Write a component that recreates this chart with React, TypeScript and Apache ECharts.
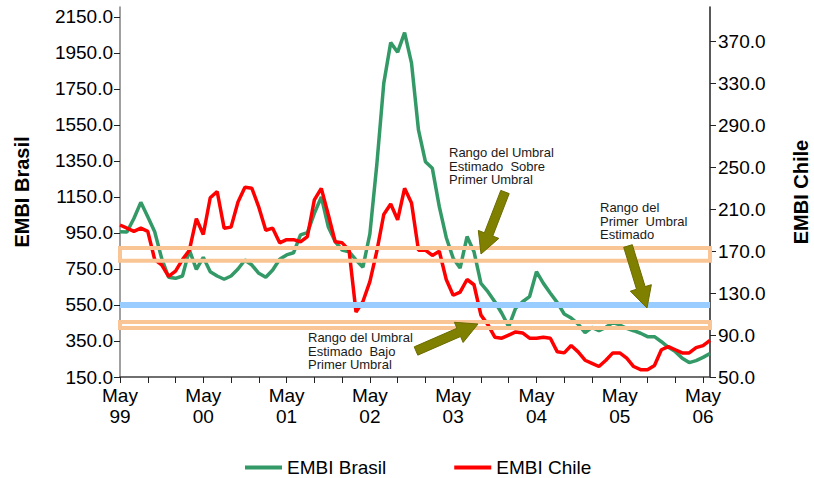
import { useEffect, useRef } from 'react';
import * as echarts from 'echarts';

// meses mayo 1999 a junio 2006
const monthNames = ['Jan', 'Feb', 'Mar', 'Apr', 'May', 'Jun', 'Jul', 'Aug', 'Sep', 'Oct', 'Nov', 'Dec'];
const months: string[] = [];
for (let k = 0; k < 86; k++) {
  const m = (4 + k) % 12;
  const yy = (99 + Math.floor((4 + k) / 12)) % 100;
  months.push(monthNames[m] + ' ' + String(yy).padStart(2, '0'));
}

const brasil = [
  957, 955, 1030, 1120, 1040, 957, 809, 704, 698, 711,
  855, 748, 815, 735, 711, 693, 711, 750, 800, 772,
  726, 704, 744, 804, 828, 840, 939, 952, 1059, 1150,
  985, 902, 855, 846, 800, 760, 945, 1330, 1781, 2007,
  1954, 2063, 1893, 1522, 1346, 1309, 1096, 925, 810, 755,
  930, 846, 670, 624, 568, 504, 430, 532, 568, 596,
  735, 670, 615, 563, 500, 478, 444, 396, 426, 407,
  426, 452, 439, 420, 407, 393, 374, 374, 346, 315,
  291, 254, 230, 241, 259, 281,
];

const chile = [
  195, 192, 189, 192, 189, 162, 157, 146, 151, 162,
  171, 201, 186, 221, 227, 192, 193, 217, 231, 230,
  212, 190, 192, 178, 181, 181, 179, 184, 219, 230,
  205, 179, 178, 171, 112, 122, 141, 170, 205, 215,
  200, 230, 216, 171, 171, 166, 170, 143, 128, 131,
  143, 138, 109, 100, 88, 87, 90, 93, 92, 87,
  87, 88, 87, 74, 73, 80, 74, 66, 63, 60,
  66, 73, 73, 68, 60, 57, 57, 61, 76, 79,
  76, 73, 73, 78, 80, 85,
];

const brasilTicks = [150, 350, 550, 750, 950, 1150, 1350, 1550, 1750, 1950, 2150];
const chileTicks = [50, 90, 130, 170, 210, 250, 290, 330, 370];

// umbrales (escala EMBI Brasil)
const umbralLinea = 550;
const bandaSobre = [796, 867];
const bandaBajo = [422, 456];

const FONT = '"Liberation Sans", Arial, sans-serif';

// flecha como poligono: cola -> punta
function arrow(x1: number, y1: number, x2: number, y2: number, w: number, hw: number, hl: number) {
  const dx = x2 - x1;
  const dy = y2 - y1;
  const len = Math.sqrt(dx * dx + dy * dy);
  const ux = dx / len;
  const uy = dy / len;
  const nx = -uy;
  const ny = ux;
  const bx = x2 - ux * hl;
  const by = y2 - uy * hl;
  return [
    [x1 + nx * w, y1 + ny * w],
    [bx + nx * w, by + ny * w],
    [bx + nx * hw, by + ny * hw],
    [x2, y2],
    [bx - nx * hw, by - ny * hw],
    [bx - nx * w, by - ny * w],
    [x1 - nx * w, y1 - ny * w],
  ];
}

const App = () => {
  const chartRef = useRef<HTMLDivElement | null>(null);

  useEffect(() => {
    const chart = echarts.init(chartRef.current!, null, { renderer: 'svg' });

    const noteStyle = {
      fontSize: 13,
      fontFamily: FONT,
      fill: '#1a1a1a',
      lineHeight: 13.5,
      verticalAlign: 'top' as const,
    };

    const option: echarts.EChartsOption = {
      animation: false,
      backgroundColor: '#fff',
      grid: { left: 120, right: 104, top: 7, bottom: 101, outerBoundsMode: 'none' } as any,
      legend: {
        left: 240,
        top: 453,
        icon: 'rect',
        itemWidth: 37,
        itemHeight: 4,
        itemGap: 68,
        textStyle: { fontSize: 19, fontFamily: FONT, color: '#000' },
        data: ['EMBI Brasil', 'EMBI Chile'],
      },
      xAxis: {
        type: 'category',
        data: months,
        boundaryGap: false,
        axisLine: { lineStyle: { color: '#404040', width: 1.5 } },
        axisTick: { interval: 3, length: 6, lineStyle: { color: '#222' } },
        axisLabel: {
          interval: 11,
          margin: 8,
          fontSize: 19,
          lineHeight: 21,
          fontFamily: FONT,
          color: '#000',
          formatter: (v: string) => v.replace(' ', '\n'),
        },
        splitLine: { show: false },
      },
      yAxis: [
        {
          type: 'value',
          min: 150,
          max: 2205,
          name: 'EMBI Brasil',
          nameLocation: 'middle',
          nameRotate: 90,
          nameGap: 88,
          nameTextStyle: { fontSize: 20, fontWeight: 'bold', fontFamily: FONT, color: '#000' },
          axisLine: { show: true, lineStyle: { color: '#808080', width: 1.5 } },
          axisTick: { show: true, length: 6, customValues: brasilTicks, lineStyle: { color: '#222' } },
          axisLabel: {
            customValues: brasilTicks,
            margin: 7,
            fontSize: 19,
            fontFamily: FONT,
            color: '#000',
            formatter: (v: number) => v.toFixed(1),
          },
          splitLine: { show: false },
        },
        {
          type: 'value',
          min: 50,
          max: 403,
          position: 'right',
          name: 'EMBI Chile',
          nameLocation: 'middle',
          nameRotate: 90,
          nameGap: 81,
          nameTextStyle: { fontSize: 20, fontWeight: 'bold', fontFamily: FONT, color: '#000' },
          axisLine: { show: true, lineStyle: { color: '#222', width: 1.5 } },
          axisTick: { show: true, length: 6, customValues: chileTicks, lineStyle: { color: '#222' } },
          axisLabel: {
            customValues: chileTicks,
            margin: 8,
            fontSize: 19,
            fontFamily: FONT,
            color: '#000',
            formatter: (v: number) => v.toFixed(1),
          },
          splitLine: { show: false },
        },
      ],
      series: [
        {
          name: 'EMBI Brasil',
          type: 'line',
          yAxisIndex: 0,
          data: brasil,
          symbol: 'none',
          color: '#339966',
          lineStyle: { color: '#339966', width: 3.5 },
          markLine: {
            silent: true,
            symbol: 'none',
            z: 6,
            label: { show: false },
            lineStyle: { color: '#99CCFF', width: 6, type: 'solid' },
            data: [{ yAxis: umbralLinea }],
          },
          markArea: {
            silent: true,
            z: 6,
            itemStyle: { color: 'rgba(0,0,0,0)', borderColor: '#FAC595', borderWidth: 4 },
            data: [
              [
                { xAxis: months[0], yAxis: bandaSobre[0] },
                { xAxis: months[months.length - 1], yAxis: bandaSobre[1] },
              ],
              [
                { xAxis: months[0], yAxis: bandaBajo[0] },
                { xAxis: months[months.length - 1], yAxis: bandaBajo[1] },
              ],
            ],
          },
        },
        {
          name: 'EMBI Chile',
          type: 'line',
          yAxisIndex: 1,
          data: chile,
          symbol: 'none',
          color: '#FF0000',
          lineStyle: { color: '#FF0000', width: 3.5 },
        },
      ],
      graphic: [
        {
          type: 'text',
          x: 449,
          y: 146,
          z: 10,
          style: { ...noteStyle, text: 'Rango del Umbral\nEstimado  Sobre\nPrimer Umbral' },
        },
        {
          type: 'text',
          x: 600,
          y: 201,
          z: 10,
          style: { ...noteStyle, text: 'Rango del\nPrimer  Umbral\nEstimado' },
        },
        {
          type: 'text',
          x: 308,
          y: 331,
          z: 10,
          style: { ...noteStyle, text: 'Rango del Umbral\nEstimado  Bajo\nPrimer Umbral' },
        },
        {
          type: 'polygon',
          z: 10,
          shape: { points: arrow(505, 192, 481, 254, 4.5, 11, 21) },
          style: { fill: '#808000', stroke: '#6b6b00', lineWidth: 1 },
        },
        {
          type: 'polygon',
          z: 10,
          shape: { points: arrow(628, 246, 647, 308, 4.5, 11, 21) },
          style: { fill: '#808000', stroke: '#6b6b00', lineWidth: 1 },
        },
        {
          type: 'polygon',
          z: 10,
          shape: { points: arrow(416, 351, 478, 324, 4.5, 11, 21) },
          style: { fill: '#808000', stroke: '#6b6b00', lineWidth: 1 },
        },
      ],
    };

    chart.setOption(option);

    return () => {
      chart.dispose();
    };
  }, []);

  return <div ref={chartRef} style={{ position: 'fixed', left: 0, top: 0, width: 814, height: 478 }} />;
};

export default App;
